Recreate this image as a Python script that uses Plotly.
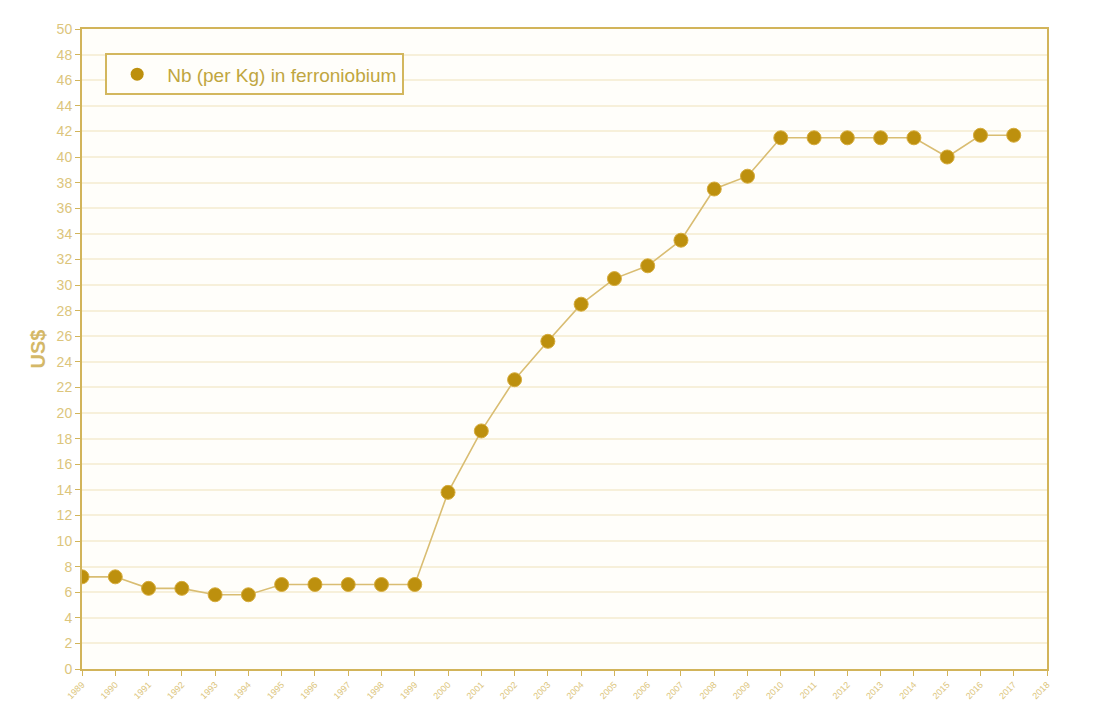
import plotly.graph_objects as go

years = list(range(1989, 2018))
values = [7.2, 7.2, 6.3, 6.3, 5.8, 5.8, 6.6, 6.6, 6.6, 6.6, 6.6,
          13.8, 18.6, 22.6, 25.6, 28.5, 30.5, 31.5, 33.5, 37.5, 38.5,
          41.5, 41.5, 41.5, 41.5, 41.5, 40.0, 41.7, 41.7]
x_ticks = list(range(1989, 2019))
y_ticks = list(range(0, 51, 2))
series_name = "Nb (per Kg) in ferroniobium"

gold = "#bd900e"
axis_col = "#d2b45a"
label_col = "#dcc57c"

fig = go.Figure()
fig.add_trace(go.Scatter(
    x=years, y=values, mode="lines+markers",
    name=series_name, showlegend=False,
    line=dict(color="#d9bd72", width=1.6),
    marker=dict(color=gold, size=14, line=dict(color="#d6ac3c", width=1)),
))
# legend entry shows only the marker
fig.add_trace(go.Scatter(
    x=[None], y=[None], mode="markers", name=series_name,
    marker=dict(color=gold, size=13),
))

fig.update_layout(
    width=1102, height=716,
    margin=dict(l=82, r=55, t=29, b=47),
    paper_bgcolor="#ffffff",
    plot_bgcolor="#fffefa",
    font=dict(family="Liberation Sans, Arial", color=label_col),
    showlegend=True,
    legend=dict(
        x=0.024, y=0.962, xanchor="left", yanchor="top",
        bgcolor="#fffefa", bordercolor="#d3b75e", borderwidth=2,
        font=dict(size=19, color="#bfa640"),
        itemwidth=50, entrywidth=305,
    ),
    xaxis=dict(
        range=[1989, 2018], tickvals=x_ticks, ticktext=[str(v) for v in x_ticks],
        tickangle=-45, tickfont=dict(size=9, color=label_col),
        showgrid=False, showline=True, linecolor=axis_col, linewidth=2,
        ticks="outside", ticklen=5, tickcolor=axis_col, mirror=True, zeroline=False,
    ),
    yaxis=dict(
        range=[0, 50], tickvals=y_ticks, tickfont=dict(size=14, color=label_col),
        showgrid=True, gridcolor="#f7f0da", gridwidth=1.5,
        showline=True, linecolor=axis_col, linewidth=2, mirror=True,
        ticks="outside", ticklen=5, tickcolor=axis_col, zeroline=False,
        title=dict(text="<b>US$</b>", font=dict(size=20, color="#d4b868"), standoff=6),
    ),
)

fig.write_html("out.html")
